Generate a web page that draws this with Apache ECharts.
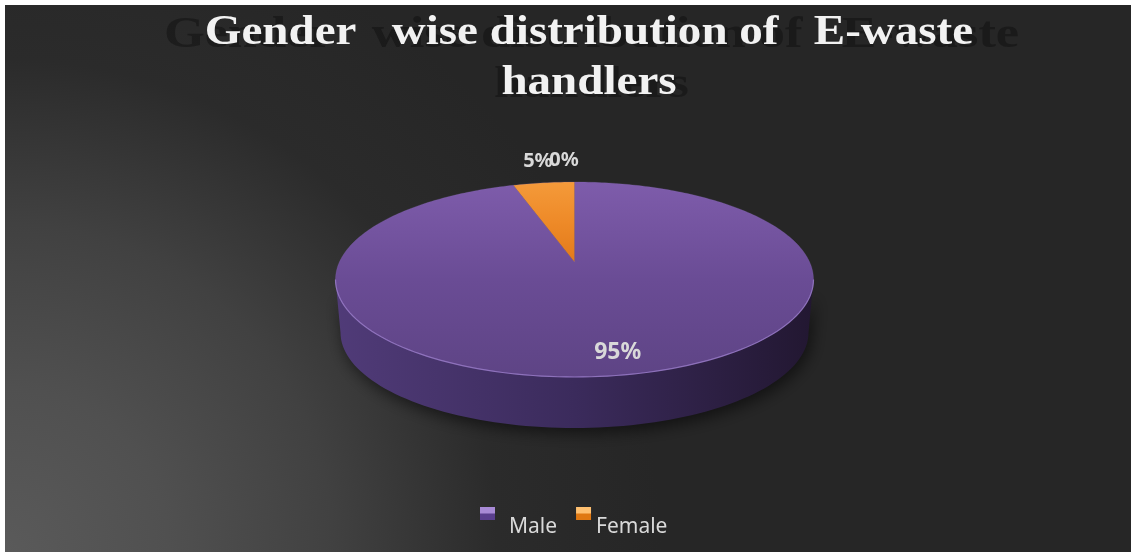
<!DOCTYPE html>
<html>
<head>
<meta charset="utf-8">
<title>Gender wise distribution of E-waste handlers</title>
<script src="https://cdn.jsdelivr.net/npm/echarts@6/dist/echarts.min.js"></script>
<style>
  html, body { margin: 0; padding: 0; background: #ffffff; }
  #chart { position: absolute; left: 5px; top: 5px; width: 1126px; height: 547px; }
</style>
</head>
<body>
<div id="chart"></div>
<script>
// ---- data ----
const categories = ['Male', 'Female', 'Other'];
const values = [95, 5, 0];
const legendNames = ['Male', 'Female'];
const titleLines = ['Gender   wise distribution of   E-waste', 'handlers'];

// ---- styling ----
const topFills = [
  ['#7e5cab', '#6a4c95', '#5e4485'],
  ['#f49a3a', '#ee8a28', '#e27a1a'],
  ['#888888', '#777777', '#666666']
];
const sideFills = [
  ['#503b78', '#3b2b5c', '#221731'],
  ['#c46a18', '#a85a12', '#8a4a0e'],
  ['#555555', '#444444', '#333333']
];
const legendFills = [
  ['#a88ad6', '#5a3f8e'],
  ['#ffc070', '#e07812']
];

// ---- tilted pie geometry (chart pixels) ----
const PIE = { cx: 569.5, cy: 274.5, apexY: 257, rx: 239, ry: 97.5, depth: 53, rxB: 234, ryB: 95.5 };
const LABEL = { insideScale: 0.8, insideShift: 8, outsideScale: 1.275, outsideSpread: 0.85, outsideShift: -10.5 };
const total = values.reduce((a, b) => a + b, 0);

// point where the ray from the apex at angle theta (deg, clockwise from 12 o'clock) meets the rim
function rimPoint(theta, scale) {
  const t = theta * Math.PI / 180;
  const dx = Math.sin(t) * PIE.rx, dy = -Math.cos(t) * PIE.ry;
  const ay = PIE.apexY - PIE.cy;
  const A = (dx / PIE.rx) ** 2 + (dy / PIE.ry) ** 2;
  const B = 2 * ay * dy / (PIE.ry * PIE.ry);
  const C = (ay / PIE.ry) ** 2 - 1;
  const s = (-B + Math.sqrt(B * B - 4 * A * C)) / (2 * A);
  return [PIE.cx + dx * s * scale, PIE.apexY + dy * s * scale];
}
function paramAngle(p) {
  let a = Math.atan2((p[0] - PIE.cx) / PIE.rx, -(p[1] - PIE.cy) / PIE.ry) * 180 / Math.PI;
  if (a < 0) a += 360;
  return a;
}
function topEllipse(phi) {
  const t = phi * Math.PI / 180;
  return [PIE.cx + PIE.rx * Math.sin(t), PIE.cy - PIE.ry * Math.cos(t)];
}
function bottomEllipse(phi) {
  const t = phi * Math.PI / 180;
  return [PIE.cx + PIE.rxB * Math.sin(t), PIE.cy + PIE.depth - PIE.ryB * Math.cos(t)];
}
function vGrad(c) {
  return new echarts.graphic.LinearGradient(0, 0, 0, 1, [
    { offset: 0, color: c[0] }, { offset: 0.5, color: c[1] }, { offset: 1, color: c[2] }
  ]);
}
function hGrad(c) {
  return new echarts.graphic.LinearGradient(0, 0, 1, 0, [
    { offset: 0, color: c[0] }, { offset: 0.5, color: c[1] }, { offset: 1, color: c[2] }
  ]);
}

function makeRenderItem(idx) {
  return function (params, api) {
    const v = api.value(0);
    const before = api.value(1);
    const a0 = before / total * 360;
    const a1 = (before + v) / total * 360;
    const children = [];

    if (v > 0) {
      // visible front wall
      const p0 = rimPoint(a0, 1), p1 = rimPoint(a1, 1);
      let f0 = paramAngle(p0), f1 = paramAngle(p1);
      if (f1 <= f0) f1 += 360;
      [[90, 270], [450, 630]].forEach(function (rng) {
        const s = Math.max(f0, rng[0]), e = Math.min(f1, rng[1]);
        if (e > s) {
          const pts = [];
          for (let k = 0; k <= 90; k++) pts.push(topEllipse(s + (e - s) * k / 90));
          for (let k = 90; k >= 0; k--) pts.push(bottomEllipse(s + (e - s) * k / 90));
          children.push({
            type: 'polygon', shape: { points: pts },
            style: { fill: hGrad(sideFills[idx]), shadowBlur: 16, shadowColor: 'rgba(0,0,0,0.55)', shadowOffsetX: 3, shadowOffsetY: 5 }
          });
          const rim = [];
          for (let k = 0; k <= 90; k++) rim.push(topEllipse(s + (e - s) * k / 90));
          children.push({
            type: 'polyline', shape: { points: rim }, z2: 3,
            style: { stroke: 'rgba(160,130,210,0.75)', lineWidth: 1.2, fill: null }
          });
        }
      });
      // top face
      const n = Math.max(4, Math.ceil(a1 - a0));
      const top = [[PIE.cx, PIE.apexY]];
      for (let k = 0; k <= n; k++) top.push(rimPoint(a0 + (a1 - a0) * k / n, 1));
      children.push({
        type: 'polygon', shape: { points: top }, z2: 2,
        style: { fill: vGrad(topFills[idx]), stroke: 'rgba(140,110,190,0.35)', lineWidth: 0.6 }
      });
    }

    // percentage label
    const share = v / total;
    const mid = (a0 + a1) / 2;
    const inside = share >= 0.1;
    let lx, ly;
    if (inside) {
      const p = rimPoint(mid, LABEL.insideScale);
      lx = p[0] + LABEL.insideShift; ly = p[1];
    } else {
      lx = PIE.cx + (rimPoint(mid, 1)[0] - PIE.cx) * LABEL.outsideSpread + LABEL.outsideShift;
      ly = rimPoint(mid, LABEL.outsideScale)[1];
    }
    children.push({
      type: 'text', z2: 5,
      style: {
        text: Math.round(share * 100) + '%',
        x: lx, y: ly,
        fill: '#d9d9d9',
        fontFamily: '"Noto Sans", sans-serif',
        fontWeight: 'bold',
        fontSize: inside ? 23 : 20,
        align: 'center', verticalAlign: 'middle'
      }
    });
    return { type: 'group', children: children };
  };
}

let running = 0;
const series = categories.map(function (name, i) {
  const before = running;
  running += values[i];
  return {
    type: 'custom',
    name: name,
    coordinateSystem: 'none',
    silent: true,
    itemStyle: {
      color: i < legendFills.length
        ? new echarts.graphic.LinearGradient(0, 0, 0, 1, [
            { offset: 0, color: legendFills[i][0] }, { offset: 0.45, color: legendFills[i][0] },
            { offset: 0.55, color: legendFills[i][1] }, { offset: 1, color: legendFills[i][1] }
          ])
        : '#777777'
    },
    renderItem: makeRenderItem(i),
    data: [{ name: name, value: [values[i], before] }]
  };
});

// title: soft dark backdrop text plus crisp white text on top
const SERIF = '"Liberation Serif", "Times New Roman", serif';
const titleGraphics = [];
titleLines.forEach(function (line, i) {
  titleGraphics.push({
    type: 'text', x: 586.5, y: 31 + i * 50, scaleX: 1.19, z: 5, silent: true,
    style: {
      text: line, fill: 'rgba(8,8,8,0.38)', font: 'bold 44px ' + SERIF,
      align: 'center', verticalAlign: 'middle',
      shadowColor: 'rgba(0,0,0,1)', shadowBlur: 12, shadowOffsetX: 0, shadowOffsetY: 0
    }
  });
});
titleLines.forEach(function (line, i) {
  titleGraphics.push({
    type: 'text', x: 584, y: 28 + i * 50, scaleX: 1.12, z: 6, silent: true,
    style: {
      text: line, fill: '#f2f2f2', font: 'bold 42px ' + SERIF,
      align: 'center', verticalAlign: 'middle',
      shadowColor: 'rgba(0,0,0,0.5)', shadowBlur: 4, shadowOffsetX: 2, shadowOffsetY: 2
    }
  });
});

const chart = echarts.init(document.getElementById('chart'), null, { renderer: 'canvas' });
chart.setOption({
  animation: false,
  backgroundColor: {
    type: 'radial', x: 0, y: 1, r: 1.2,
    colorStops: [
      { offset: 0, color: '#5a5a5a' },
      { offset: 0.25, color: '#505050' },
      { offset: 0.5, color: '#414141' },
      { offset: 0.75, color: '#2b2b2b' },
      { offset: 1, color: '#262626' }
    ]
  },
  graphic: titleGraphics,
  legend: {
    data: legendNames,
    left: 475, top: 480.5, padding: 0,
    itemWidth: 15, itemHeight: 13, itemGap: 19,
    icon: 'rect',
    formatter: function (name) { return name === legendNames[0] ? '\n\u2009 ' + name : '\n' + name; },
    textStyle: { color: '#d9d9d9', fontFamily: '"Noto Sans", sans-serif', fontSize: 21, lineHeight: 28 }
  },
  series: series
});
</script>
</body>
</html>
